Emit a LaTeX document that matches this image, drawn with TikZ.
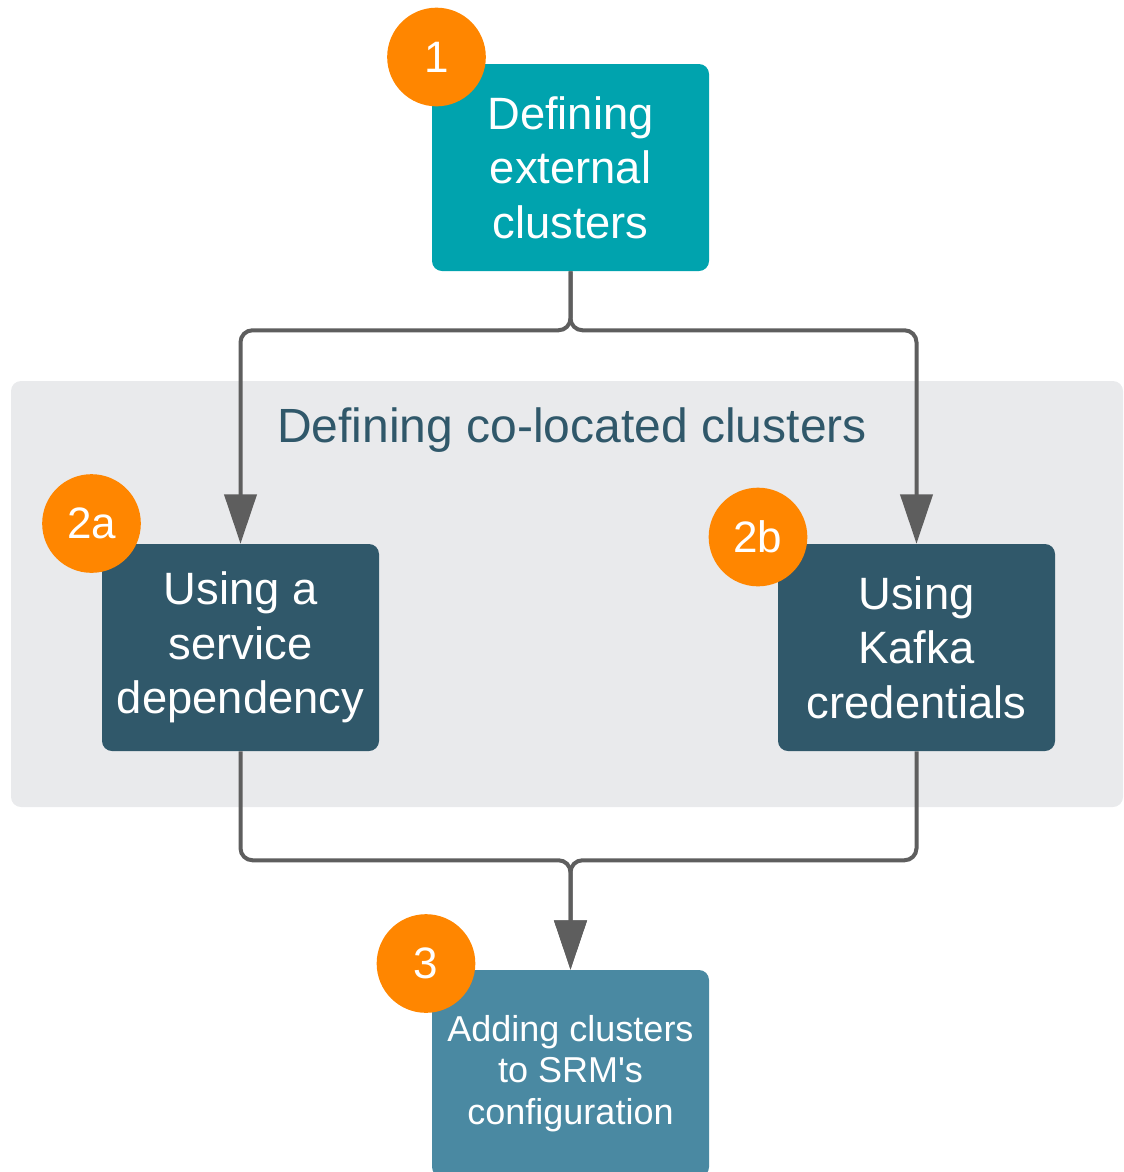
\documentclass[tikz,border=0pt]{standalone}
\usepackage{fontspec}
\setmainfont{Liberation Sans}
\usetikzlibrary{arrows.meta}
\definecolor{tealbox}{HTML}{00A3AE}
\definecolor{darkbox}{HTML}{30586A}
\definecolor{bluebox}{HTML}{4A89A2}
\definecolor{badgeorange}{HTML}{FF8600}
\definecolor{panelgray}{HTML}{E9EAEC}
\definecolor{linkgray}{HTML}{5E5E5E}

\begin{document}
\begin{tikzpicture}
  [x=0.75pt,y=-0.75pt,every node/.style={rectangle},
   box/.style={rounded corners=7.5pt,minimum width=207.75pt,
     minimum height=155.25pt,inner sep=0pt,text=white,align=center,
     font=\fontsize{34}{41}\selectfont},
   badge/.style={circle,fill=badgeorange,minimum size=74pt,inner sep=0pt,
     text=white,font=\fontsize{33}{40}\selectfont},
   link/.style={draw=linkgray,line width=3pt,rounded corners=9pt,
     -{Triangle[length=37pt,width=24pt]}}]
  \useasboundingbox (0,0) rectangle (1124,1172);

  \fill[panelgray,rounded corners=7.5pt] (11,381) rectangle (1123,807);
  \node[text=darkbox,font=\fontsize{36}{43}\selectfont] (l1) at (572,430)
  {Defining co-located clusters};

  \node[box,fill=tealbox] (n1) at (570.5,167.5)
  {Defining\\external\\clusters};
  \node[box,fill=darkbox] (n2a) at (240.5,647.5)
  {Using a\\service\\dependency};
  \node[box,fill=darkbox] (n2b) at (916.5,647.5)
  {Using\\Kafka\\credentials};
  \node[box,fill=bluebox,font=\fontsize{27}{31}\selectfont] (n3) at (570.5,1073.5)
  {Adding clusters\\to SRM\textquotesingle s\\configuration};

\draw[link] (n1.south) -- ++(0,59) -| (n2a.north);
\draw[link] (n1.south) -- ++(0,59) -| (n2b.north);
\draw[link] (n2a.south) -- ++(0,109) -| (n3.north);
\draw[link] (n2b.south) -- ++(0,109) -| (n3.north);

  \node[badge] (b1) at (436.5,57) {1};
  \node[badge] (b2a) at (91.5,523.5) {2a};
  \node[badge] (b2b) at (758,537) {2b};
  \node[badge] (b3) at (426,963.5) {3};

\end{tikzpicture}
\end{document}
